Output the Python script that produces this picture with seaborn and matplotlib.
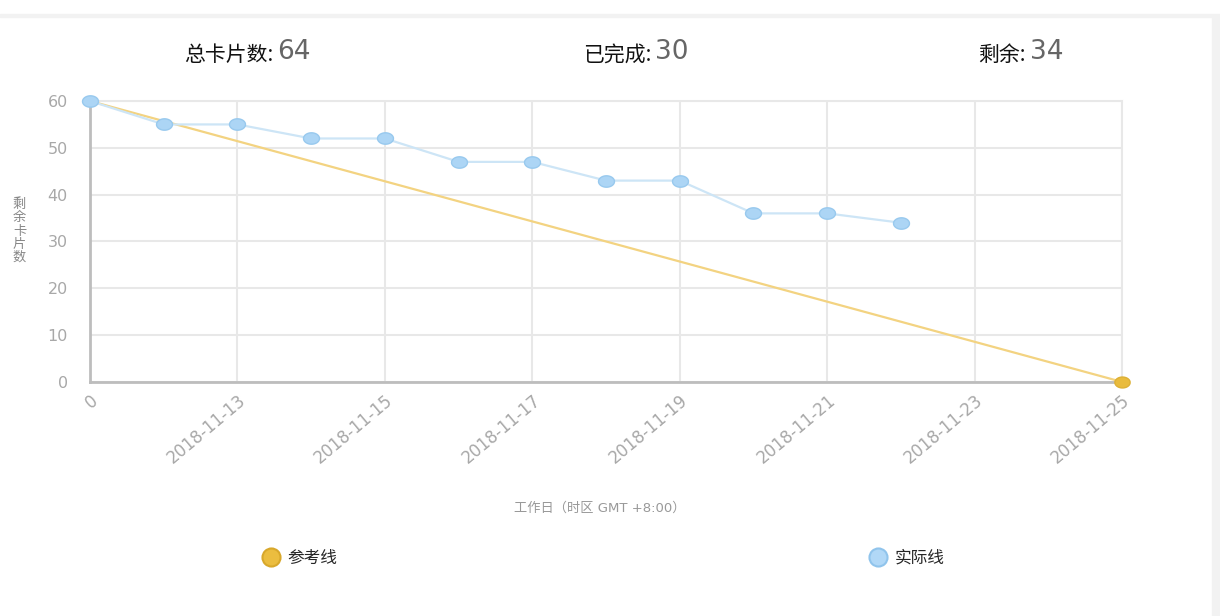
import numpy as np
import pandas as pd
import matplotlib.pyplot as plt
from matplotlib.path import Path
from matplotlib.lines import Line2D
from matplotlib.patches import Rectangle
import seaborn as sns

# burndown data
x_labels = ["0", "2018-11-12", "2018-11-13", "2018-11-14", "2018-11-15", "2018-11-16",
            "2018-11-17", "2018-11-18", "2018-11-19", "2018-11-20", "2018-11-21",
            "2018-11-22", "2018-11-23", "2018-11-24", "2018-11-25"]
actual_days = [0, 1, 2, 3, 4, 5, 6, 7, 8, 9, 10, 11]
actual_left = [60, 55, 55, 52, 52, 47, 47, 43, 43, 36, 36, 34]
ref_days = [0, 14]
ref_left = [60, 0]
total_cards = 64
done_cards = 30
left_cards = 34

sns.set_style("white")
plt.rcParams["font.family"] = ["DejaVu Sans", "Noto Sans CJK SC"]

fig = plt.figure(figsize=(12.2, 6.16), dpi=100)
ax = fig.add_axes([0.0738, 0.380, 0.8459, 0.456])

# flattened ellipse marker like the stretched original
t = np.linspace(0, 2 * np.pi, 40)
ellipse = Path(np.column_stack([1.4 * np.cos(t), np.sin(t)]))

ref_df = pd.DataFrame({"day": ref_days, "left": ref_left})
act_df = pd.DataFrame({"day": actual_days, "left": actual_left})

sns.lineplot(data=ref_df, x="day", y="left", ax=ax, color="#f3d381", lw=1.6,
             marker=ellipse, markersize=11, markevery=[1], markerfacecolor="#e9bb3c",
             markeredgecolor="#ddb035", markeredgewidth=1, clip_on=False, zorder=3)
sns.lineplot(data=act_df, x="day", y="left", ax=ax, color="#cde5f6", lw=1.6,
             marker=ellipse, markersize=11.5, markerfacecolor="#acd5f5",
             markeredgecolor="#98c9ee", markeredgewidth=1, clip_on=False, zorder=4)

ax.set_xlim(0, 14)
ax.set_ylim(0, 60)
ax.set_xticks(range(0, 15, 2))
ax.set_xticklabels([x_labels[i] for i in range(0, 15, 2)], rotation=40, ha="right",
                   rotation_mode="anchor", color="#a8a8a8", fontsize=12)
ax.set_yticks(range(0, 61, 10))
ax.set_yticklabels([str(v) for v in range(0, 61, 10)], color="#a8a8a8", fontsize=11.5)
ax.tick_params(axis="x", length=7, width=1.5, color="#e4e4e4", pad=0)
ax.tick_params(axis="y", length=14, width=1.5, color="#e4e4e4", pad=2)
ax.grid(True, color="#e8e8e8", lw=1.5)
ax.set_xlabel("")
ax.set_ylabel("")
for side in ["top", "right"]:
    ax.spines[side].set_color("#e8e8e8")
    ax.spines[side].set_linewidth(1.5)
for side in ["left", "bottom"]:
    ax.spines[side].set_color("#bdbdbd")
    ax.spines[side].set_linewidth(2)

# y label stacked vertically
fig.text(0.016, 0.625, "\n".join("剩余卡片数"), ha="center", va="center",
         color="#888888", fontsize=9.5, linespacing=1.02)
fig.text(0.492, 0.175, "工作日（时区 GMT +8:00）", ha="center", va="center",
         color="#999999", fontsize=9.5)

# header numbers
headers = [("总卡片数:", total_cards, 273), ("已完成:", done_cards, 651), ("剩余:", left_cards, 1026)]
for label, num, px in headers:
    fig.text(px / 1220, 1 - 55 / 616, label, ha="right", va="center", fontsize=15,
             color="#111111", family=["Noto Sans CJK SC"])
    fig.text((px + 4) / 1220, 1 - 52 / 616, str(num), ha="left", va="center", fontsize=19,
             color="#666666")

# legend
handles = [
    Line2D([], [], ls="none", marker="o", markersize=13, markerfacecolor="#ebbd3f",
           markeredgecolor="#d8a82b", markeredgewidth=1.5, label="参考线"),
    Line2D([], [], ls="none", marker="o", markersize=13, markerfacecolor="#b1d8f7",
           markeredgecolor="#90c4ec", markeredgewidth=1.5, label="实际线"),
]
fig.legend(handles=handles, ncol=2, loc="center", bbox_to_anchor=(0.494, 0.095),
           frameon=False, fontsize=12, columnspacing=31.85, handletextpad=0.4,
           handlelength=1.2)

# page decoration: top band and right strip
fig.patches.append(Rectangle((0, 1 - 17 / 616), 1, 3 / 616, transform=fig.transFigure,
                             color="#f2f2f2", zorder=0))
fig.patches.append(Rectangle((1212 / 1220, 0), 8 / 1220, 1 - 17 / 616,
                             transform=fig.transFigure, color="#f2f2f2", zorder=0))

fig.savefig("out.png", dpi=100)
